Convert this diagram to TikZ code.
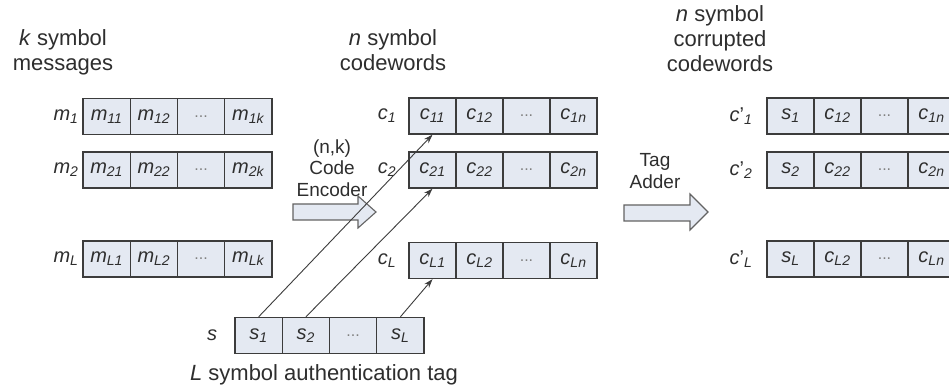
\documentclass[tikz,border=0pt]{standalone}
\usepackage{fontspec}
\setmainfont{Liberation Sans}
\usetikzlibrary{arrows.meta}
\definecolor{cellfill}{HTML}{E4E9F2}
\definecolor{cellline}{HTML}{3C3C3C}
\definecolor{txt}{HTML}{2E2E2E}
\newcommand\ms[2]{\textit{#1}\textsubscript{\textit{#2}}}
\newcommand\msprime[2]{\textit{#1}'\textsubscript{\textit{#2}}}
\newcommand\celldots{{\fontsize{16}{16}\selectfont\color{gray}...}}
\begin{document}
\begin{tikzpicture}[x=1pt,y=-1pt,
  cell/.style={draw=cellline, fill=cellfill, line width=1.3pt, minimum height=36pt,
    inner sep=0pt, font=\fontsize{20}{20}\selectfont, text=txt},
  mcell/.style={cell, minimum width=47.25pt},
  ccell/.style={cell, minimum width=47pt},
  rowlab/.style={font=\fontsize{20}{20}\selectfont, text=txt, inner sep=0pt},
  title/.style={font=\fontsize{22}{25}\selectfont, text=txt, align=center, inner sep=0pt},
  optext/.style={font=\fontsize{19}{21.5}\selectfont, text=txt, align=center, inner sep=0pt},
  blockarrow/.style={draw=cellline!80, fill=cellfill, line width=1.1pt, line join=miter},
  link/.style={-{Stealth[length=9pt,width=6pt]}, line width=0.9pt, draw=cellline}]
\useasboundingbox (0,0) rectangle (949,387);
\clip (0,0) rectangle (949,387);
\fill[white] (0,0) rectangle (949,387);

% titles
\node[title] (tm) at (63,52) {\textit{k} symbol\\messages};
\node[title] (tc) at (393,50) {\textit{n} symbol\\codewords};
\node[title] (tcp) at (720,39) {\textit{n} symbol\\corrupted\\codewords};

% message rows
\node[rowlab] (lm1) at (66,116.5) {\ms{m}{1}};
\node[mcell] (m11) at (106.625,116.5) {\ms{m}{11}};
\node[mcell] (m12) at (153.875,116.5) {\ms{m}{12}};
\node[mcell] (m1d) at (201.125,116.5) {\celldots};
\node[mcell] (m1k) at (248.375,116.5) {\ms{m}{1k}};

\node[rowlab] (lm2) at (66,170) {\ms{m}{2}};
\node[mcell] (m21) at (106.625,170) {\ms{m}{21}};
\node[mcell] (m22) at (153.875,170) {\ms{m}{22}};
\node[mcell] (m2d) at (201.125,170) {\celldots};
\node[mcell] (m2k) at (248.375,170) {\ms{m}{2k}};

\node[rowlab] (lmL) at (66,259) {\ms{m}{L}};
\node[mcell] (mL1) at (106.625,259) {\ms{m}{L1}};
\node[mcell] (mL2) at (153.875,259) {\ms{m}{L2}};
\node[mcell] (mLd) at (201.125,259) {\celldots};
\node[mcell] (mLk) at (248.375,259) {\ms{m}{Lk}};

% codeword rows
\node[rowlab] (lc1) at (387,116) {\ms{c}{1}};
\node[ccell] (c11) at (432.5,116) {\ms{c}{11}};
\node[ccell] (c12) at (479.5,116) {\ms{c}{12}};
\node[ccell] (c1d) at (526.5,116) {\celldots};
\node[ccell] (c1n) at (573.5,116) {\ms{c}{1n}};

\node[rowlab] (lc2) at (387,170) {\ms{c}{2}};
\node[ccell] (c21) at (432.5,170) {\ms{c}{21}};
\node[ccell] (c22) at (479.5,170) {\ms{c}{22}};
\node[ccell] (c2d) at (526.5,170) {\celldots};
\node[ccell] (c2n) at (573.5,170) {\ms{c}{2n}};

\node[rowlab] (lcL) at (387,260.5) {\ms{c}{L}};
\node[ccell] (cL1) at (432.5,260.5) {\ms{c}{L1}};
\node[ccell] (cL2) at (479.5,260.5) {\ms{c}{L2}};
\node[ccell] (cLd) at (526.5,260.5) {\celldots};
\node[ccell] (cLn) at (573.5,260.5) {\ms{c}{Ln}};

% corrupted codeword rows
\node[rowlab] (lp1) at (741,116) {\msprime{c}{1}};
\node[ccell] (p11) at (790.5,116) {\ms{s}{1}};
\node[ccell] (p12) at (837.5,116) {\ms{c}{12}};
\node[ccell] (p1d) at (884.5,116) {\celldots};
\node[ccell] (p1n) at (931.5,116) {\ms{c}{1n}};

\node[rowlab] (lp2) at (741,170) {\msprime{c}{2}};
\node[ccell] (p21) at (790.5,170) {\ms{s}{2}};
\node[ccell] (p22) at (837.5,170) {\ms{c}{22}};
\node[ccell] (p2d) at (884.5,170) {\celldots};
\node[ccell] (p2n) at (931.5,170) {\ms{c}{2n}};

\node[rowlab] (lpL) at (741,259) {\msprime{c}{L}};
\node[ccell] (pL1) at (790.5,259) {\ms{s}{L}};
\node[ccell] (pL2) at (837.5,259) {\ms{c}{L2}};
\node[ccell] (pLd) at (884.5,259) {\celldots};
\node[ccell] (pLn) at (931.5,259) {\ms{c}{Ln}};

% tag row
\node[rowlab] (ls) at (212,335.5) {\textit{s}};
\node[mcell] (s1) at (258.625,335.5) {\ms{s}{1}};
\node[mcell] (s2) at (305.875,335.5) {\ms{s}{2}};
\node[mcell] (sd) at (353.125,335.5) {\celldots};
\node[mcell] (sL) at (400.375,335.5) {\ms{s}{L}};
\node[title] (tt) at (324,375) {\textit{L} symbol authentication tag};

% operation labels and block arrows
\node[optext] (enc) at (332,168) {(n,k)\\Code\\Encoder};
\node[optext] (tag) at (655,171) {Tag\\Adder};
\draw[blockarrow] (293,204) -- (358,204) -- (358,196) -- (376,212) -- (358,228) -- (358,220) -- (293,220) -- cycle;
\draw[blockarrow] (624,205) -- (690,205) -- (690,194) -- (708,212) -- (690,230) -- (690,221) -- (624,221) -- cycle;

% tag links
\draw[link] (s1.north) -- (c11.south);
\draw[link] (s2.north) -- (c21.south);
\draw[link] (sL.north) -- (cL1.south);
\end{tikzpicture}
\end{document}
